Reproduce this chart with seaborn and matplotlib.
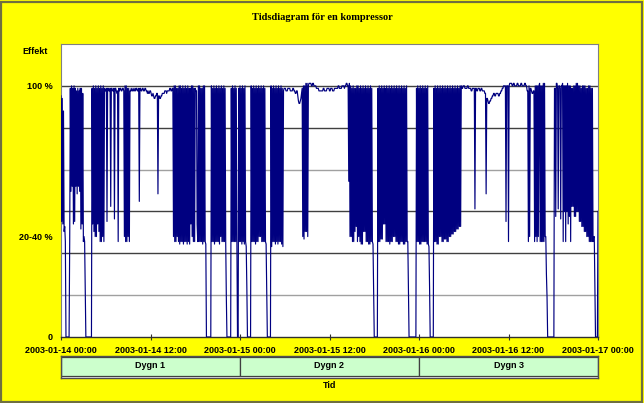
import numpy as np
import pandas as pd
import matplotlib
matplotlib.use("Agg")
import matplotlib.pyplot as plt
import matplotlib.dates as mdates
from matplotlib.patches import Rectangle
import seaborn as sns

# ---------------- data ----------------
title = "Tidsdiagram för en kompressor"
y_label = "Effekt"
x_label = "Tid"
start = "2003-01-14 00:00"
end = "2003-01-17 00:00"
step = "5min"

# effekt (%) sampled every 5 minutes, one row = 2 hours
effekt = [
    96, 46, 95, 45, 90, 42, 44, 38, 0, 0, 0, 0, 0, 0, 38, 99, 58, 100, 60, 99, 45, 100, 46, 99,
    60, 98, 57, 99, 60, 98, 58, 99, 43, 99, 45, 97, 38, 40, 38, 20, 0, 0, 0, 0, 0, 0, 0, 0,
    0, 0, 99, 45, 100, 42, 99, 40, 100, 40, 99, 45, 100, 42, 99, 38, 100, 38, 99, 40, 100, 38, 99, 98,
    98, 99, 46, 99, 99, 98, 98, 99, 52, 99, 99, 98, 98, 99, 47, 99, 99, 98, 97, 98, 38, 99, 98, 99,
    99, 98, 98, 99, 99, 98, 40, 100, 38, 100, 38, 99, 40, 99, 38, 98, 98, 99, 98, 98, 99, 98, 98, 99,
    98, 99, 99, 98, 98, 99, 54, 99, 99, 98, 98, 99, 99, 98, 98, 99, 99, 98, 98, 97, 98, 97, 97, 98,
    98, 97, 96, 96, 97, 96, 95, 95, 96, 96, 97, 97, 57, 96, 96, 95, 95, 96, 96, 97, 97, 97, 97, 98,
    98, 98, 97, 98, 98, 98, 98, 99, 99, 98, 98, 99, 99, 40, 100, 38, 100, 38, 99, 40, 99, 38, 100, 37,
    100, 38, 99, 38, 100, 37, 99, 38, 100, 38, 99, 37, 100, 38, 99, 37, 99, 45, 100, 40, 100, 38, 99, 38,
    99, 98, 98, 45, 38, 100, 38, 100, 38, 99, 38, 99, 37, 100, 38, 100, 38, 37, 0, 0, 0, 0, 0, 0,
    0, 0, 100, 38, 99, 38, 100, 37, 99, 38, 100, 38, 99, 38, 100, 37, 99, 40, 100, 38, 99, 38, 100, 38,
    99, 38, 16, 0, 0, 0, 0, 0, 0, 0, 99, 38, 100, 38, 99, 38, 100, 38, 99, 38, 0, 0, 99, 38,
    100, 38, 99, 37, 100, 38, 99, 37, 100, 38, 36, 20, 0, 0, 0, 0, 0, 0, 100, 38, 99, 38, 100, 38,
    99, 37, 100, 38, 99, 38, 100, 40, 99, 40, 100, 38, 99, 38, 100, 38, 99, 38, 37, 20, 0, 0, 0, 0,
    0, 0, 100, 36, 99, 38, 100, 38, 99, 37, 100, 38, 99, 37, 100, 38, 99, 38, 100, 37, 99, 36, 98, 99,
    99, 99, 98, 98, 98, 99, 99, 99, 99, 98, 98, 98, 98, 99, 99, 98, 98, 97, 97, 98, 98, 96, 94, 93,
    93, 94, 95, 97, 99, 40, 100, 39, 100, 42, 101, 42, 101, 40, 100, 101, 101, 101, 101, 100, 100, 101, 101, 100,
    100, 100, 100, 99, 99, 99, 99, 98, 98, 98, 98, 98, 98, 98, 99, 99, 98, 98, 98, 98, 99, 99, 99, 99,
    98, 98, 99, 99, 99, 98, 98, 98, 99, 99, 99, 99, 99, 99, 100, 100, 99, 99, 99, 99, 100, 100, 100, 100,
    99, 100, 100, 101, 101, 100, 100, 62, 101, 40, 100, 40, 99, 38, 100, 38, 99, 42, 99, 44, 100, 38, 100, 40,
    99, 38, 100, 37, 99, 37, 100, 42, 99, 42, 100, 38, 99, 38, 100, 37, 99, 37, 100, 38, 99, 38, 37, 20,
    0, 0, 0, 0, 0, 0, 99, 38, 100, 38, 99, 39, 100, 39, 99, 45, 100, 45, 99, 38, 100, 38, 99, 38,
    100, 37, 99, 38, 100, 38, 99, 40, 100, 40, 99, 38, 100, 38, 99, 37, 100, 37, 99, 38, 100, 38, 99, 37,
    100, 37, 99, 38, 100, 38, 38, 20, 0, 0, 0, 0, 0, 0, 0, 0, 0, 0, 0, 0, 99, 38, 100, 38,
    99, 37, 100, 37, 99, 38, 100, 38, 99, 38, 100, 38, 99, 37, 100, 37, 36, 20, 0, 0, 0, 0, 0, 0,
    99, 38, 100, 38, 99, 37, 100, 37, 99, 40, 100, 40, 99, 38, 100, 38, 99, 39, 100, 39, 99, 38, 100, 38,
    99, 40, 100, 40, 99, 41, 100, 41, 99, 42, 100, 42, 99, 43, 100, 43, 99, 44, 100, 44, 100, 99, 99, 100,
    100, 100, 99, 99, 99, 99, 100, 100, 99, 99, 99, 99, 98, 98, 99, 99, 99, 99, 51, 99, 99, 98, 98, 99,
    99, 99, 98, 98, 99, 99, 98, 98, 98, 98, 97, 97, 57, 95, 95, 94, 93, 93, 94, 94, 95, 95, 96, 96,
    97, 97, 96, 96, 97, 97, 97, 97, 96, 96, 97, 97, 98, 98, 99, 99, 100, 100, 100, 100, 46, 100, 100, 100,
    38, 100, 101, 101, 101, 101, 100, 100, 101, 101, 100, 100, 100, 100, 101, 101, 100, 100, 100, 100, 101, 101, 100, 100,
    100, 100, 101, 101, 100, 100, 98, 98, 38, 100, 40, 99, 99, 98, 97, 97, 98, 98, 38, 100, 40, 100, 38, 100,
    40, 100, 101, 38, 100, 38, 100, 38, 101, 38, 101, 40, 40, 25, 16, 0, 0, 0, 0, 0, 0, 0, 0, 0,
    0, 0, 99, 99, 48, 101, 101, 99, 51, 100, 100, 99, 47, 100, 100, 101, 38, 100, 50, 100, 38, 100, 50, 101,
    45, 100, 48, 100, 38, 99, 52, 99, 52, 100, 48, 100, 48, 101, 50, 101, 50, 100, 46, 100, 46, 99, 44, 100,
    44, 100, 42, 100, 42, 99, 40, 99, 40, 100, 38, 100, 38, 99, 38, 99, 38, 40, 40, 20, 0, 0, 0, 0,
    50,
]

ytick_values = [0, 40, 100]
ytick_labels = ["0", "20-40 %", "100 %"]
dygn_labels = ["Dygn 1", "Dygn 2", "Dygn 3"]

times = pd.date_range(start, periods=len(effekt), freq=step)
df = pd.DataFrame({"Tid": times, "Effekt": effekt})

# ---------------- figure ----------------
W, H = 644, 403
fig = plt.figure(figsize=(W / 100, H / 100), dpi=100)
fig.patch.set_facecolor("#FFFF00")
fig.patches.append(Rectangle((0.002, 0.003), 0.995, 0.993, transform=fig.transFigure,
                             fill=False, edgecolor="#6f6f40", linewidth=1.6))

SANS = "Liberation Sans"
SERIF = "Liberation Serif"

ax = fig.add_axes([61 / W, (H - 337) / H, 537 / W, (337 - 44) / H])
ax.set_facecolor("white")

grid_cols = ["#a0a0a0", "#404040", "#404040", "#a0a0a0", "#404040", "#404040"]
for k, c in enumerate(grid_cols, start=1):
    ax.axhline(k * 100 / 6, color=c, lw=1.0, zorder=1)

sns.lineplot(data=df, x="Tid", y="Effekt", ax=ax, color="#000080",
             linewidth=0.85, estimator=None, zorder=3)

ax.set_ylim(0, 700 / 6)
ax.set_xlim(pd.Timestamp(start), pd.Timestamp(end))
ax.set_xlabel("")
ax.set_ylabel("")

ax.set_yticks(ytick_values)
ax.set_yticklabels(ytick_labels, fontfamily=SANS, fontweight="bold", fontsize=6.5)
ax.tick_params(axis="y", length=0, pad=6)

ax.xaxis.set_major_locator(mdates.HourLocator(byhour=[0, 12]))
ax.xaxis.set_major_formatter(mdates.DateFormatter("%Y-%m-%d %H:%M"))
ax.tick_params(axis="x", direction="inout", length=5, width=0.8, color="#303030",
               pad=4, labelsize=6.5)
for lab in ax.get_xticklabels():
    lab.set_fontfamily(SANS)
    lab.set_fontweight("bold")

for s in ["top", "right", "left"]:
    ax.spines[s].set_color("#808080")
    ax.spines[s].set_linewidth(0.8)
ax.spines["bottom"].set_color("#303030")
ax.spines["bottom"].set_linewidth(1.0)

# Dygn band
ax2 = fig.add_axes([61 / W, (H - 378) / H, 537 / W, 22 / H])
ax2.set_xlim(0, len(dygn_labels))
ax2.set_ylim(0, 22)
ax2.set_facecolor("white")
ax2.set_xticks([])
ax2.set_yticks([])
for s in ax2.spines.values():
    s.set_color("#505050")
    s.set_linewidth(1.0)
for i, lab in enumerate(dygn_labels):
    ax2.add_patch(Rectangle((i, 2.5), 1, 19, facecolor="#CCFFCC", edgecolor="#404040", lw=0.9))
    ax2.text(i + 0.5, 12, lab, ha="center", va="center", fontfamily=SANS,
             fontweight="bold", fontsize=6.5)

fig.text(322 / W, 1 - 17 / H, title, ha="center", va="center", fontfamily=SERIF,
         fontweight="bold", fontsize=7.5)
fig.text(35 / W, 1 - 52 / H, y_label, ha="center", va="center", fontfamily=SANS,
         fontweight="bold", fontsize=6.5)
fig.text(330 / W, 1 - 386 / H, x_label, ha="center", va="center", fontfamily=SANS,
         fontweight="bold", fontsize=6.5)

fig.savefig("out.png", dpi=100, facecolor=fig.get_facecolor())
